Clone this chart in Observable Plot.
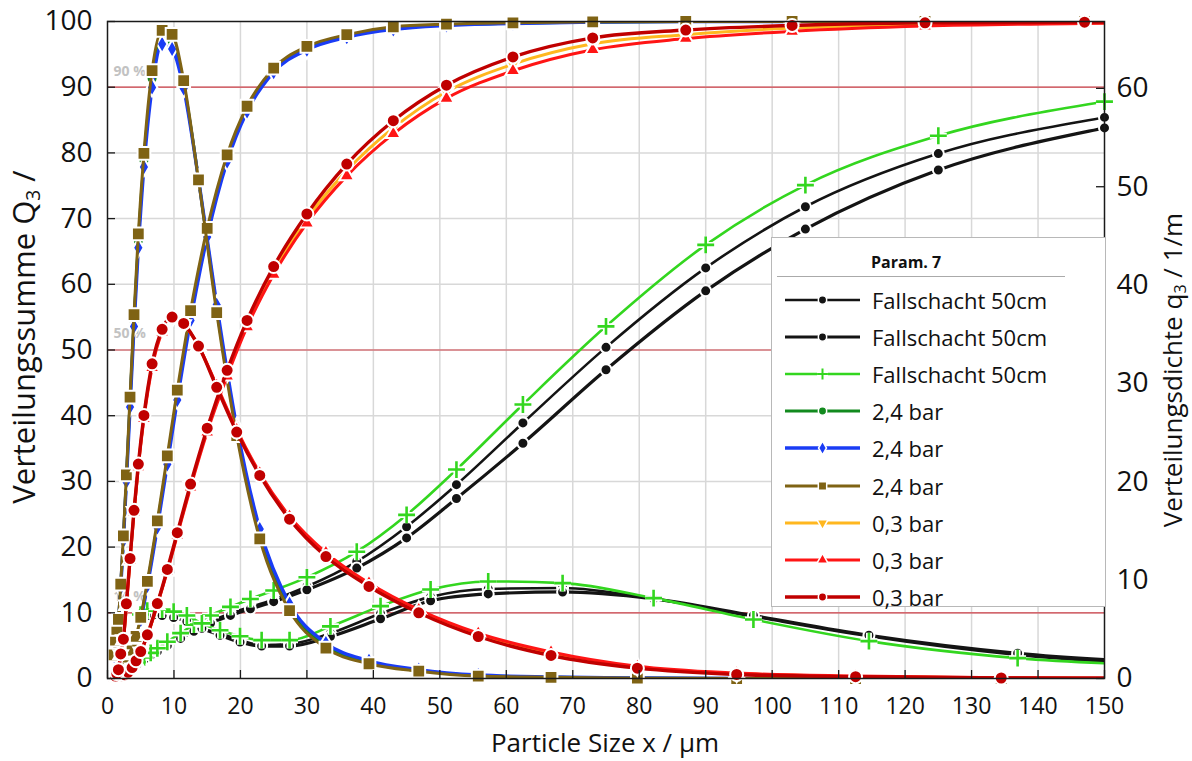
<!DOCTYPE html>
<html><head><meta charset="utf-8">
<script src="https://cdn.jsdelivr.net/npm/d3@7"></script>
<script src="https://cdn.jsdelivr.net/npm/@observablehq/plot@0.6"></script>
<style>
body{margin:0;background:#fff;font-family:"Open Sans",sans-serif;}
#wrap{position:relative;width:1192px;height:761px;overflow:hidden;background:#fff;}
.t{position:absolute;white-space:nowrap;color:#111;font-size:24px;line-height:1.2;}
.rot{transform:translate(-50%,-50%) rotate(-90deg);}
.t sub{font-size:62%;vertical-align:-0.25em;line-height:0;}
#legend{position:absolute;left:771px;top:237px;width:335px;height:370px;background:#fff;border:1px solid #b8b8b8;box-sizing:border-box;}
#legend .ttl{position:absolute;left:99px;top:16px;font-size:16px;line-height:1;font-weight:bold;color:#111;}
#legend .rule{position:absolute;left:5px;top:38px;width:288px;border-top:1px solid #aaa;}
#legend .row{position:absolute;left:0;height:24px;width:330px;}
#legend .row svg{position:absolute;left:0;top:0;}
#legend .row span{position:absolute;left:100px;top:-3px;font-size:22px;line-height:30px;color:#111;white-space:nowrap;}
</style></head><body><div id="wrap"></div>
<script>
// ---- class boundaries / class means (µm) ----
const xQ_R4 = [0.9,1.1,1.3,1.5,1.8,2.2,2.6,3.1,3.7,4.3,5,6,7.5,9,10.5,12.5,15,18,21,25,30,36,43,51,61,73,87,103,123,147,175];
const xq_R4 = [0.99,1.2,1.4,1.64,1.99,2.39,2.84,3.39,3.99,4.64,5.48,6.71,8.22,9.72,11.46,13.69,16.43,19.44,22.91,27.39,32.86,39.34,46.83,55.78,66.73,79.72,94.66,112.55,134.46,160.4];
const xQ_R5 = [4.5,5.5,6.5,7.5,9,11,13,15.5,18.5,21.5,25,30,37.5,45,52.5,62.5,75,90,105,125,150,180];
const xq_R5 = [4.97,5.98,6.98,8.22,9.95,11.94,14.2,16.93,19.94,23.19,27.39,33.54,41.08,48.61,57.28,68.47,82.16,97.18,114.56,136.93,164.32];

// ---- series names ----
const seriesNames = ["Fallschacht 50cm","Fallschacht 50cm","Fallschacht 50cm","2,4 bar","2,4 bar","2,4 bar","0,3 bar","0,3 bar","0,3 bar"];

// ---- Fallschacht 50cm (Q3 in %, q3 in 1/m) ----
const Q_fall1 = [2.3,3.0,3.6,4.2,5.1,6.3,7.4,8.7,9.9,10.9,12.0,14.0,17.8,23.1,29.5,38.9,50.4,62.5,71.8,79.9,85.4,89.5];
const q_fall1 = [6.2,6.6,6.7,6.6,6.4,6.0,5.3,4.6,3.9,3.4,3.5,4.6,6.6,8.3,9.1,9.2,8.1,6.3,4.3,2.4,1.2];
const Q_fall2 = [2.2,2.9,3.5,4.1,5.0,6.1,7.2,8.4,9.6,10.6,11.7,13.5,16.8,21.4,27.4,35.8,47.0,59.0,68.4,77.4,83.8,88.5];
const q_fall2 = [6.0,6.4,6.5,6.4,6.2,5.8,5.1,4.4,3.7,3.3,3.3,4.27,6.07,7.9,8.6,8.8,8.1,6.4,4.4,2.57,1.4];
const Q_fall3 = [2.5,3.2,3.9,4.6,5.6,6.9,8.2,9.6,10.9,12.1,13.4,15.4,19.3,24.9,31.8,41.7,53.6,66.0,75.1,82.6,87.8,91.5];
const q_fall3 = [6.5,6.9,7.0,7.0,6.8,6.4,5.6,4.9,4.3,3.9,3.9,5.3,7.36,9.05,9.87,9.7,8.17,6.0,3.8,2.07,1.2];

// ---- 2,4 bar ----
const Q_bar24a = [0.1,0.2,0.3,0.45,0.7,1.1,1.65,2.65,4.2,6.25,9.1,14.4,23.5,33.2,43.1,55.2,67.8,79.2,86.7,92.6,96.0,97.8,99.0,99.5,99.75,99.9,100,100,100,100,100];
const q_bar24a = [2.35,3.8,4.9,5.9,9.4,14.2,20.3,28.1,36.4,44.5,52.7,61.0,65.2,64.8,60.4,50.8,37.6,25.1,14.7,7.2,3.3,1.6,0.8,0.3,0.13,0.04,0,0,0,0];
const Q_bar24b = [0.1,0.2,0.3,0.45,0.7,1.1,1.6,2.6,4.1,6.1,8.9,14.1,23.0,32.6,42.4,54.5,67.2,78.7,86.3,92.3,95.7,97.6,98.8,99.4,99.7,99.9,100,100,100,100,100];
const q_bar24b = [2.3,3.7,4.8,5.8,9.2,14.0,20.0,27.6,35.8,43.8,52.0,60.1,64.5,64.0,60.0,50.8,38.0,25.6,15.2,7.6,3.6,1.8,0.9,0.35,0.15,0.05,0,0,0,0];
const Q_bar24c = [0.1,0.2,0.3,0.45,0.7,1.1,1.7,2.7,4.3,6.4,9.3,14.8,24.0,33.9,43.9,56.0,68.5,79.7,87.1,92.9,96.2,98.0,99.2,99.6,99.8,99.95,100,100,100,100,100];
const q_bar24c = [2.4,3.9,5.0,6.0,9.6,14.5,20.7,28.6,37.0,45.2,53.4,61.8,65.9,65.5,60.8,50.7,37.2,24.7,14.2,6.9,3.1,1.5,0.74,0.25,0.12,0.03,0,0,0,0];

// ---- 0,3 bar ----
const Q_bar03a = [0,0.05,0.1,0.2,0.3,0.4,0.55,0.92,1.62,2.65,4.05,6.55,11.3,16.45,22.0,29.3,37.8,46.4,54.0,62.1,70.0,77.3,83.8,89.3,93.5,96.6,98.0,99.0,99.6,99.8,100];
const q_bar03a = [0.2,0.25,0.5,0.9,2.45,3.95,7.5,12.1,17.0,21.6,26.6,31.8,35.3,36.6,36.0,33.8,29.7,25.2,20.8,16.4,12.6,9.5,6.85,4.45,2.5,1.15,0.5,0.2,0.06,0.02];
const Q_bar03b = [0,0.05,0.1,0.2,0.3,0.4,0.55,0.9,1.6,2.6,4.0,6.5,11.2,16.3,21.8,29.1,37.5,46.0,53.5,61.5,69.3,76.5,82.9,88.3,92.5,95.7,97.4,98.5,99.3,99.7,100];
const q_bar03b = [0.2,0.25,0.5,0.9,2.4,3.9,7.4,12.0,16.9,21.5,26.4,31.6,35.2,36.5,36.0,33.8,29.8,25.3,20.9,16.5,12.8,9.7,7.0,4.6,2.7,1.25,0.55,0.25,0.08,0.02];
const Q_bar03c = [0,0.05,0.1,0.2,0.3,0.4,0.56,0.94,1.67,2.7,4.1,6.65,11.4,16.6,22.2,29.6,38.1,46.9,54.5,62.7,70.7,78.3,84.9,90.3,94.6,97.5,98.7,99.4,99.8,99.9,100];
const q_bar03c = [0.2,0.25,0.5,0.9,2.5,4.0,7.6,12.2,17.1,21.8,26.75,32.0,35.5,36.75,36.1,33.8,29.6,25.06,20.65,16.2,12.4,9.36,6.68,4.27,2.34,1.05,0.41,0.18,0.05,0.02];

// ---- axes / reference lines ----
const xTicks = [0,10,20,30,40,50,60,70,80,90,100,110,120,130,140,150];
const yTicks = [0,10,20,30,40,50,60,70,80,90,100];
const qTicks = [0,10,20,30,40,50,60];
const refLines = [10,50,90];
const qMax = 66.8; // right axis top
const kq = 100 / qMax;

// ---- styling per series ----
const triDown = {draw(ctx, size){const y = -Math.sqrt(size/(Math.sqrt(3)*3)); ctx.moveTo(0,-y*2); ctx.lineTo(-Math.sqrt(3)*y, y); ctx.lineTo(Math.sqrt(3)*y, y); ctx.closePath();}};
const styles = [
  {color:"#141414", symbol:"circle",  r:5.5, w:2.6},
  {color:"#141414", symbol:"circle",  r:5.5, w:3.2},
  {color:"#33d61f", symbol:"plus",    r:5.5, w:2.6},
  {color:"#128a1e", symbol:"circle",  r:5.5, w:3},
  {color:"#1a3cf5", symbol:"diamond", r:5.5, w:3.4},
  {color:"#7f6314", symbol:"square",  r:7.2, w:3},
  {color:"#ffb71f", symbol:triDown,   r:5.5, w:3},
  {color:"#ff1515", symbol:"triangle",r:5.5, w:3},
  {color:"#c00000", symbol:"circle",  r:6.5, w:3.4}
];
const xs = [[xQ_R5,xq_R5],[xQ_R5,xq_R5],[xQ_R5,xq_R5],[xQ_R4,xq_R4],[xQ_R4,xq_R4],[xQ_R4,xq_R4],[xQ_R4,xq_R4],[xQ_R4,xq_R4],[xQ_R4,xq_R4]];
const Qs = [Q_fall1,Q_fall2,Q_fall3,Q_bar24a,Q_bar24b,Q_bar24c,Q_bar03a,Q_bar03b,Q_bar03c];
const qs = [q_fall1,q_fall2,q_fall3,q_bar24a,q_bar24b,q_bar24c,q_bar03a,q_bar03b,q_bar03c];

const marks = [
  Plot.gridX(xTicks.slice(1,-1), {stroke:"#d8d8d8", strokeOpacity:1, strokeWidth:1.5}),
  Plot.gridY(yTicks.slice(1,-1), {stroke:"#d8d8d8", strokeOpacity:1, strokeWidth:1.5}),
  Plot.ruleY(refLines, {stroke:"#d2424b", strokeWidth:1.2}),
  Plot.text(refLines, {x:xTicks[0], y:d=>d, dx:6, dy:-16, text:d=>d+" %", textAnchor:"start", fill:"#c2c2c2", fontWeight:"bold", fontSize:14})
];
seriesNames.forEach((name, i) => {
  const st = styles[i];
  const cum = xs[i][0].map((x,j)=>({x, y:Qs[i][j]}));
  const den = xs[i][1].map((x,j)=>({x, y:qs[i][j]*kq}));
  for (const d of [cum, den]) {
    marks.push(Plot.line(d, {x:"x", y:"y", stroke:st.color, strokeWidth:st.w, curve:"monotone-x", clip:true}));
    const vis = d.filter(p => p.x <= 150);
    if (st.symbol === "plus") {
      marks.push(Plot.dot(vis, {x:"x", y:"y", symbol:"plus", r:st.r, stroke:"white", strokeWidth:6}));
      marks.push(Plot.dot(vis, {x:"x", y:"y", symbol:"plus", r:st.r, stroke:st.color, strokeWidth:2.6}));
    } else {
      marks.push(Plot.dot(vis, {x:"x", y:"y", symbol:st.symbol, r:st.r, fill:st.color, stroke:"white", strokeWidth:2}));
    }
  }
});
marks.push(
  Plot.frame({stroke:"#1a1a1a", strokeWidth:1.5}),
  Plot.tickX(xTicks, {x:d=>d, insetTop:649, stroke:"#1a1a1a", strokeWidth:1.3}),
  Plot.tickY(yTicks, {y:d=>d, insetRight:989, stroke:"#1a1a1a", strokeWidth:1.3}),
  Plot.tickY(qTicks.map(v=>v*kq), {y:d=>d, insetLeft:989, stroke:"#1a1a1a", strokeWidth:1.3}),
  Plot.axisX(xTicks, {tickSize:0, tickPadding:19, label:null, fontSize:23}),
  Plot.axisY(yTicks, {tickSize:0, tickPadding:15, label:null, fontSize:28}),
  Plot.axisY(qTicks.map(v=>v*kq), {anchor:"right", tickSize:0, tickPadding:12, label:null, fontSize:28, tickFormat:d=>String(Math.round(d/kq))})
);

const chart = Plot.plot({
  width:1192, height:761,
  marginTop:21, marginBottom:83, marginLeft:107, marginRight:88,
  x:{domain:[0,150], label:null},
  y:{domain:[0,100], label:null},
  style:{fontFamily:"'Open Sans', sans-serif", fontSize:"24px", color:"#111", background:"#fff"},
  marks
});
const wrap = document.getElementById("wrap");
wrap.appendChild(chart);

// axis titles
function addText(html, cls, css){const d=document.createElement("div"); d.className="t "+cls; d.innerHTML=html; Object.assign(d.style, css); wrap.appendChild(d); return d;}
addText("Particle Size x / µm", "", {left:"605px", top:"743px", transform:"translate(-50%,-50%)", fontSize:"26px"});
addText("Verteilungssumme Q<sub>3</sub> /", "rot", {left:"24px", top:"337px", fontSize:"31px"});
addText("Verteilungsdichte q<sub>3</sub> / 1/m", "rot", {left:"1173px", top:"370px", fontSize:"26px"});

// legend
const lg = document.createElement("div"); lg.id="legend"; wrap.appendChild(lg);
lg.innerHTML = '<div class="ttl">Param. 7</div><div class="rule"></div>';
const rowTop = 50, rowStep = 37.1;
seriesNames.forEach((name,i)=>{
  const st = styles[i];
  const row = document.createElement("div"); row.className="row"; row.style.top = (rowTop + i*rowStep) + "px";
  const svg = d3.create("svg").attr("width",100).attr("height",24);
  svg.append("line").attr("x1",13).attr("x2",88).attr("y1",12).attr("y2",12).attr("stroke",st.color).attr("stroke-width",st.w);
  if (st.symbol === "plus") {
    svg.append("path").attr("transform","translate(50.5,12)").attr("d", d3.symbol(d3.symbolPlus, 40)()).attr("stroke","white").attr("stroke-width",5).attr("fill","none");
    svg.append("path").attr("transform","translate(50.5,12)").attr("d", d3.symbol(d3.symbolPlus, 40)()).attr("stroke",st.color).attr("stroke-width",2).attr("fill","none");
  } else {
    const map = {circle:d3.symbolCircle, square:d3.symbolSquare, diamond:d3.symbolDiamond, triangle:d3.symbolTriangle};
    const type = typeof st.symbol === "string" ? map[st.symbol] : st.symbol;
    svg.append("path").attr("transform","translate(50.5,12)").attr("d", d3.symbol(type, st.symbol==="square"?70:55)()).attr("fill",st.color).attr("stroke","white").attr("stroke-width",1.5);
  }
  row.appendChild(svg.node());
  const sp = document.createElement("span"); sp.textContent = name; row.appendChild(sp);
  lg.appendChild(row);
});
</script></body></html>
